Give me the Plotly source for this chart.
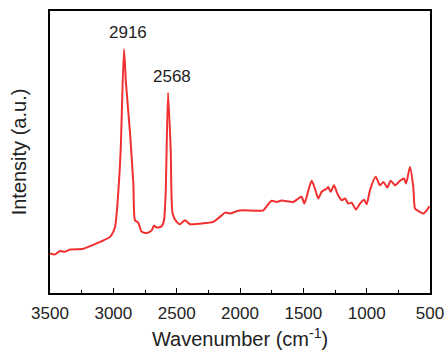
import plotly.graph_objects as go

wavenumber = [3500, 3460, 3421, 3382, 3342, 3237, 3105, 3026, 2987, 2960, 2942, 2916, 2900, 2868,
              2842, 2829, 2803, 2776, 2737, 2697, 2679, 2658, 2618, 2600, 2587, 2568, 2547, 2532,
              2500, 2474, 2434, 2395, 2316, 2211, 2158, 2118, 2079, 2026, 1974, 1816, 1789, 1750,
              1710, 1671, 1579, 1540, 1513, 1492, 1460, 1434, 1408, 1382, 1355, 1316, 1303, 1284,
              1258, 1232, 1197, 1171, 1145, 1118, 1084, 1053, 1021, 1000, 974, 929, 895, 868, 837,
              810, 776, 737, 705, 689, 658, 632, 618, 592, 553, 526, 505]
intensity = [14.0, 13.7, 14.9, 14.6, 15.4, 15.7, 18.1, 19.9, 23.4, 36.4, 50.7, 86.4, 74.3, 56.6,
             38.8, 25.8, 24.9, 21.7, 21.3, 22.2, 23.9, 23.2, 23.7, 25.8, 35.3, 71.0, 50.7, 28.2,
             25.2, 24.4, 25.8, 24.4, 24.6, 25.2, 27.0, 28.5, 28.2, 29.0, 29.3, 29.3, 30.8, 32.7,
             32.3, 32.8, 32.3, 33.5, 34.1, 31.7, 36.4, 39.8, 37.0, 33.5, 35.9, 37.0, 37.6, 35.9,
             38.2, 35.3, 32.9, 33.5, 31.7, 32.0, 29.6, 31.7, 33.1, 31.5, 36.4, 41.2, 38.2, 39.4, 37.4,
             39.8, 38.2, 39.8, 40.6, 38.8, 44.7, 37.6, 29.9, 29.1, 28.2, 29.3, 30.8]
peak_labels = ["2916", "2568"]
peak_label_x = [2882, 2540]
peak_label_y = [92.4, 76.7]
tick_vals = [3500, 3000, 2500, 2000, 1500, 1000, 500]

fig = go.Figure()
fig.add_trace(go.Scatter(x=wavenumber, y=intensity, mode="lines",
                         line=dict(color="#f03030", width=2, shape="spline", smoothing=0.6),
                         showlegend=False))
for t, x, y in zip(peak_labels, peak_label_x, peak_label_y):
    fig.add_annotation(x=x, y=y, text=t, showarrow=False,
                       font=dict(size=17, color="#222222"))

axis_common = dict(showline=True, linecolor="black", linewidth=1.5, mirror=True,
                   showgrid=False, zeroline=False, automargin=False)
fig.update_layout(
    width=446, height=350,
    margin=dict(l=50, r=16, t=11, b=57),
    plot_bgcolor="white", paper_bgcolor="white",
    font=dict(family="Liberation Sans, Arial", size=17, color="#222222"),
    xaxis=dict(range=[3500, 500], tickvals=tick_vals, ticks="inside", ticklen=5,
               tickwidth=1.2, tickcolor="black", ticklabelstandoff=4,
               minor=dict(dtick=250, ticks="inside", ticklen=3, tickcolor="black"),
               title=dict(text="Wavenumber (cm<sup>-1</sup>)", standoff=14),
               tickfont=dict(size=17), **axis_common),
    yaxis=dict(range=[0, 100], showticklabels=False, ticks="",
               title=dict(text="Intensity (a.u.)", standoff=16), **axis_common),
)
fig.write_html("out.html")
